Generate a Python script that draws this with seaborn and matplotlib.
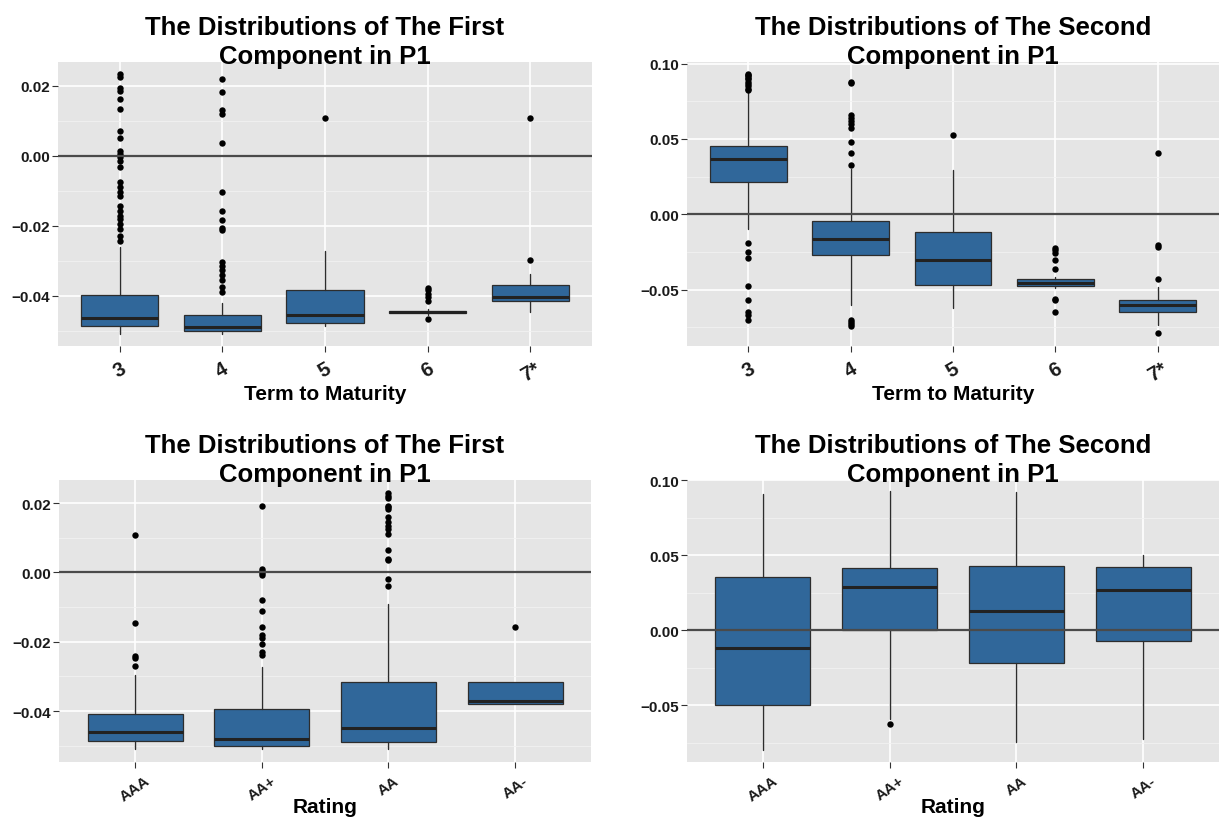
import matplotlib
matplotlib.use("Agg")
import matplotlib.pyplot as plt
from matplotlib.ticker import MultipleLocator, FixedLocator, FuncFormatter
import numpy as np
import pandas as pd
import seaborn as sns

# ---------------------------------------------------------------------------
# Data: box statistics (lower whisker, Q1, median, Q3, upper whisker) and
# outlying points for each group.
# ---------------------------------------------------------------------------
term_labels = ["3", "4", "5", "6", "7*"]
rating_labels = ["AAA", "AA+", "AA", "AA-"]

# First component by term to maturity
pc1_term_whislo = [-0.0510, -0.0510, -0.0486, -0.0456, -0.0448]
pc1_term_q1     = [-0.0488, -0.0502, -0.0477, -0.0450, -0.0414]
pc1_term_med    = [-0.0465, -0.0489, -0.0454, -0.0447, -0.0404]
pc1_term_q3     = [-0.0397, -0.0455, -0.0385, -0.0444, -0.0371]
pc1_term_whishi = [-0.0262, -0.0422, -0.0272, -0.0439, -0.0339]
pc1_term_out = [
    [0.0233, 0.0224, 0.0195, 0.0186, 0.0162, 0.0133, 0.0071, 0.0052, 0.0014,
     0.0005, -0.0005, -0.0014, -0.0033, -0.0076, -0.0090, -0.0105, -0.0114,
     -0.0143, -0.0157, -0.0171, -0.0181, -0.0195, -0.0210, -0.0229, -0.0243],
    [0.0220, 0.0183, 0.0132, 0.0118, 0.0036, -0.0103, -0.0157, -0.0184,
     -0.0208, -0.0212, -0.0304, -0.0315, -0.0328, -0.0340, -0.0355, -0.0375,
     -0.0390],
    [0.0108],
    [-0.0378, -0.0385, -0.0395, -0.0404, -0.0414, -0.0466],
    [0.0108, -0.0299],
]

# Second component by term to maturity
pc2_term_whislo = [-0.0100, -0.0600, -0.0622, -0.0490, -0.0735]
pc2_term_q1     = [0.0213, -0.0273, -0.0469, -0.0475, -0.0651]
pc2_term_med    = [0.0367, -0.0167, -0.0307, -0.0458, -0.0602]
pc2_term_q3     = [0.0456, -0.0042, -0.0116, -0.0432, -0.0567]
pc2_term_whishi = [0.0811, 0.0300, 0.0296, -0.0420, -0.0484]
pc2_term_out = [
    [0.0933, 0.0925, 0.0915, 0.0905, 0.0895, 0.0880, 0.0865, 0.0850, 0.0835,
     0.0825, -0.0189, -0.0249, -0.0289, -0.0478, -0.0567, -0.0649, -0.0667,
     -0.0704],
    [0.0880, 0.0873, 0.0660, 0.0640, 0.0620, 0.0600, 0.0575, 0.0478, 0.0407,
     0.0327, -0.0700, -0.0715, -0.0730, -0.0744],
    [0.0527],
    [-0.0222, -0.0240, -0.0255, -0.0307, -0.0362, -0.0562, -0.0572, -0.0651],
    [0.0407, -0.0207, -0.0215, -0.0433, -0.0789],
]

# First component by rating
pc1_rating_whislo = [-0.0509, -0.0510, -0.0509, -0.0381]
pc1_rating_q1     = [-0.0487, -0.0501, -0.0489, -0.0379]
pc1_rating_med    = [-0.0459, -0.0480, -0.0449, -0.0370]
pc1_rating_q3     = [-0.0408, -0.0393, -0.0316, -0.0316]
pc1_rating_whishi = [-0.0297, -0.0273, -0.0090, -0.0316]
pc1_rating_out = [
    [0.0109, -0.0145, -0.0240, -0.0248, -0.0270],
    [0.0193, 0.0010, 0.0004, -0.0002, -0.0006, -0.0079, -0.0110, -0.0156,
     -0.0180, -0.0190, -0.0206, -0.0230, -0.0238],
    [0.0230, 0.0222, 0.0215, 0.0192, 0.0188, 0.0182, 0.0160, 0.0145, 0.0135,
     0.0125, 0.0112, 0.0066, 0.0040, 0.0035, -0.0018, -0.0038],
    [-0.0158],
]

# Second component by rating
pc2_rating_whislo = [-0.0798, -0.0590, -0.0744, -0.0726]
pc2_rating_q1     = [-0.0498, 0.0000, -0.0215, -0.0072]
pc2_rating_med    = [-0.0117, 0.0291, 0.0130, 0.0271]
pc2_rating_q3     = [0.0354, 0.0413, 0.0430, 0.0422]
pc2_rating_whishi = [0.0906, 0.0928, 0.0922, 0.0502]
pc2_rating_out = [[], [-0.0626], [], []]

# ---------------------------------------------------------------------------
# Styling
# ---------------------------------------------------------------------------
BOX_FILL = "#30679a"
PANEL_BG = "#E5E5E5"

sns.set_theme(style="darkgrid", rc={
    "axes.facecolor": PANEL_BG,
    "grid.color": "white",
    "figure.facecolor": "white",
})
plt.rcParams["font.family"] = ["Liberation Sans", "DejaVu Sans"]


def fmt_tick(v, _pos):
    s = f"{v:.2f}"
    if s.startswith("-"):
        s = "\u2212" + s[1:]
    if s == "\u22120.00":
        s = "0.00"
    return s


def draw_panel(ax, labels, whislo, q1, med, q3, whishi, outliers,
               ylim, ymajor, title, xlabel, xrot, xsize, xpad, lpad):
    n = len(labels)

    # outlying points via seaborn's categorical axis
    out_df = pd.DataFrame({
        "group": [lab for lab, pts in zip(labels, outliers) for _ in pts],
        "value": [v for pts in outliers for v in pts],
    })
    sns.stripplot(data=out_df, x="group", y="value", order=labels,
                  jitter=False, color="black", size=4.6, linewidth=0,
                  ax=ax, zorder=4)

    stats = [dict(label=lab, whislo=a, q1=b, med=c, q3=d, whishi=e, fliers=[])
             for lab, a, b, c, d, e in zip(labels, whislo, q1, med, q3, whishi)]
    ax.bxp(stats, positions=list(range(n)), widths=0.75, patch_artist=True,
           showcaps=False, showfliers=False,
           boxprops=dict(facecolor=BOX_FILL, edgecolor="#2d2d2d", linewidth=0.9),
           medianprops=dict(color="#222222", linewidth=2.2),
           whiskerprops=dict(color="#2d2d2d", linewidth=1.0))

    ax.axhline(0, color="#4a4a4a", linewidth=1.6, zorder=5)

    ax.set_xlim(-0.6, n - 0.4)
    ax.set_ylim(*ylim)
    ax.xaxis.set_major_locator(FixedLocator(list(range(n))))
    ax.set_xticklabels(labels, rotation=xrot, fontsize=xsize,
                       fontweight="bold", color="#1a1a1a")
    ax.yaxis.set_major_locator(MultipleLocator(ymajor))
    ax.yaxis.set_minor_locator(MultipleLocator(ymajor / 2))
    ax.yaxis.set_major_formatter(FuncFormatter(fmt_tick))
    for t in ax.get_yticklabels():
        t.set_fontweight("bold")
        t.set_fontsize(11)
        t.set_color("#1a1a1a")

    ax.set_axisbelow(True)
    ax.grid(True, which="major", axis="both", color="white", linewidth=1.2)
    ax.grid(True, which="minor", axis="y", color="#F2F2F2", linewidth=0.6)
    ax.tick_params(axis="both", which="major", length=4, width=0.8,
                   color="#333333", bottom=True, left=True)
    ax.tick_params(axis="y", which="major", pad=2)
    ax.tick_params(axis="x", which="major", pad=xpad)
    ax.tick_params(axis="both", which="minor", length=0)
    for s in ax.spines.values():
        s.set_visible(False)

    ax.set_ylabel("")
    ax.set_xlabel(xlabel, fontsize=15, fontweight="bold", color="black",
                  labelpad=lpad)
    ax.set_title(title, fontsize=18.5, fontweight="bold", color="black",
                 linespacing=1.3, pad=-1)


fig = plt.figure(figsize=(12.25, 8.2), dpi=100)
W, H = 1225.0, 820.0


def axes_px(left, top, right, bottom):
    return fig.add_axes([left / W, 1 - bottom / H, (right - left) / W,
                         (bottom - top) / H])


ax_tl = axes_px(58, 63, 592, 347)
ax_tr = axes_px(687, 63, 1219, 347)
ax_bl = axes_px(59, 481, 591, 763)
ax_br = axes_px(687, 481, 1219, 763)

draw_panel(ax_tl, term_labels, pc1_term_whislo, pc1_term_q1, pc1_term_med,
           pc1_term_q3, pc1_term_whishi, pc1_term_out,
           (-0.0544, 0.0268), 0.02,
           "The Distributions of The First\nComponent in P1",
           "Term to Maturity", 30, 14.5, 5, 0)
draw_panel(ax_tr, term_labels, pc2_term_whislo, pc2_term_q1, pc2_term_med,
           pc2_term_q3, pc2_term_whishi, pc2_term_out,
           (-0.0875, 0.1011), 0.05,
           "The Distributions of The Second\nComponent in P1",
           "Term to Maturity", 30, 14.5, 5, 0)
draw_panel(ax_bl, rating_labels, pc1_rating_whislo, pc1_rating_q1,
           pc1_rating_med, pc1_rating_q3, pc1_rating_whishi, pc1_rating_out,
           (-0.0547, 0.0267), 0.02,
           "The Distributions of The First\nComponent in P1",
           "Rating", 35, 11, 4, -5)
draw_panel(ax_br, rating_labels, pc2_rating_whislo, pc2_rating_q1,
           pc2_rating_med, pc2_rating_q3, pc2_rating_whishi, pc2_rating_out,
           (-0.0878, 0.1002), 0.05,
           "The Distributions of The Second\nComponent in P1",
           "Rating", 35, 11, 4, -5)

fig.savefig("out.png", dpi=100)
